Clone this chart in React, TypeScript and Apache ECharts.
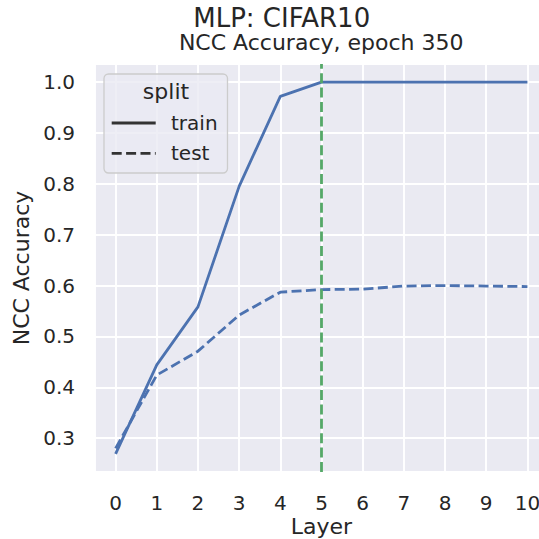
import React, { useEffect, useRef } from "react";
import * as echarts from "echarts";

const layers = [0, 1, 2, 3, 4, 5, 6, 7, 8, 9, 10];
const trainAcc = [0.269, 0.444, 0.558, 0.795, 0.972, 1.0, 1.0, 1.0, 1.0, 1.0, 1.0];
const testAcc = [0.28, 0.424, 0.471, 0.542, 0.587, 0.592, 0.593, 0.599, 0.6, 0.599, 0.598];
const markedLayer = 5;
const suptitle = "MLP: CIFAR10";
const subtitle = "NCC Accuracy, epoch 350";
const xName = "Layer";
const yName = "NCC Accuracy";
const legendTitle = "split";
const legendItems = ["train", "test"];

const FONT = "DejaVu Sans";
const TXT = "#262626";
const BLUE = "#4c72b0";
const GREEN = "#55a868";

export default function App() {
  const ref = useRef<HTMLDivElement>(null);
  useEffect(() => {
    if (!ref.current) return;
    const chart = echarts.init(ref.current, undefined, { renderer: "svg" });
    const option: any = {
      animation: false,
      backgroundColor: "#ffffff",
      textStyle: { fontFamily: FONT, color: TXT },
      grid: {
        left: 95,
        top: 64,
        right: -9,
        bottom: 67,
        containLabel: false,
        outerBoundsMode: "none",
        show: true,
        backgroundColor: "#eaeaf2",
        borderWidth: 0,
      },
      xAxis: {
        type: "value",
        min: -0.5,
        max: 10.5,
        splitNumber: 11,
        axisLine: { show: false },
        axisTick: { show: false },
        splitLine: { show: true, lineStyle: { color: "#ffffff", width: 1.9 } },
        axisLabel: {
          showMinLabel: false,
          showMaxLabel: false,
          fontFamily: FONT,
          fontSize: 20,
          color: TXT,
          margin: 21,
        },
        name: xName,
        nameLocation: "middle",
        nameGap: 43,
        nameMoveOverlap: false,
        nameTextStyle: { fontFamily: FONT, fontSize: 22, color: TXT },
      },
      yAxis: {
        type: "value",
        min: 0.2335,
        max: 1.0355,
        splitNumber: 8,
        axisLine: { show: false },
        axisTick: { show: false },
        splitLine: { show: true, lineStyle: { color: "#ffffff", width: 1.9 } },
        axisLabel: {
          showMinLabel: false,
          showMaxLabel: false,
          fontFamily: FONT,
          fontSize: 20,
          color: TXT,
          margin: 20,
          formatter: (v: number) => v.toFixed(1),
        },
        name: yName,
        nameLocation: "middle",
        nameGap: 63,
        nameMoveOverlap: false,
        nameTextStyle: { fontFamily: FONT, fontSize: 22, color: TXT },
      },
      series: [
        {
          type: "line",
          name: legendItems[0],
          data: layers.map((x, i) => [x, trainAcc[i]]),
          showSymbol: false,
          lineStyle: { color: BLUE, width: 2.8, type: "solid" },
          z: 2,
        },
        {
          type: "line",
          name: legendItems[1],
          data: layers.map((x, i) => [x, testAcc[i]]),
          showSymbol: false,
          lineStyle: { color: BLUE, width: 2.8, type: [10, 4.4] },
          z: 2,
        },
        {
          type: "line",
          data: [],
          z: 3,
          markLine: {
            silent: true,
            symbol: "none",
            label: { show: false },
            lineStyle: { color: GREEN, width: 2.8, type: [10, 4.4] },
            data: [{ xAxis: markedLayer }],
          },
        },
      ],
      graphic: [
        {
          type: "text",
          x: 281.7,
          y: 17.5,
          style: {
            text: suptitle,
            fontFamily: FONT,
            fontSize: 26,
            fill: TXT,
            align: "center",
            verticalAlign: "middle",
          },
        },
        {
          type: "text",
          x: 321.2,
          y: 42.5,
          style: {
            text: subtitle,
            fontFamily: FONT,
            fontSize: 22,
            fill: TXT,
            align: "center",
            verticalAlign: "middle",
          },
        },
        {
          type: "rect",
          z: 10,
          shape: { x: 104, y: 74, width: 123.5, height: 99, r: 4.5 },
          style: { fill: "rgba(234,234,242,0.8)", stroke: "#cccccc", lineWidth: 1.3 },
        },
        {
          type: "text",
          z: 11,
          x: 166,
          y: 91.5,
          style: {
            text: legendTitle,
            fontFamily: FONT,
            fontSize: 22,
            fill: TXT,
            align: "center",
            verticalAlign: "middle",
          },
        },
        {
          type: "line",
          z: 11,
          shape: { x1: 111.7, y1: 123, x2: 155.7, y2: 123 },
          style: { stroke: "#333333", lineWidth: 2.8 },
        },
        {
          type: "line",
          z: 11,
          shape: { x1: 111.7, y1: 153.3, x2: 155.7, y2: 153.3 },
          style: { stroke: "#333333", lineWidth: 2.8, lineDash: [10, 4.4] },
        },
        {
          type: "text",
          z: 11,
          x: 171,
          y: 122.5,
          style: {
            text: legendItems[0],
            fontFamily: FONT,
            fontSize: 20,
            fill: TXT,
            align: "left",
            verticalAlign: "middle",
          },
        },
        {
          type: "text",
          z: 11,
          x: 171,
          y: 152.5,
          style: {
            text: legendItems[1],
            fontFamily: FONT,
            fontSize: 20,
            fill: TXT,
            align: "left",
            verticalAlign: "middle",
          },
        },
      ],
    };
    chart.setOption(option);
    return () => chart.dispose();
  }, []);
  return (
    <div
      ref={ref}
      style={{ position: "absolute", left: 0, top: 0, width: 539, height: 539 }}
    />
  );
}
